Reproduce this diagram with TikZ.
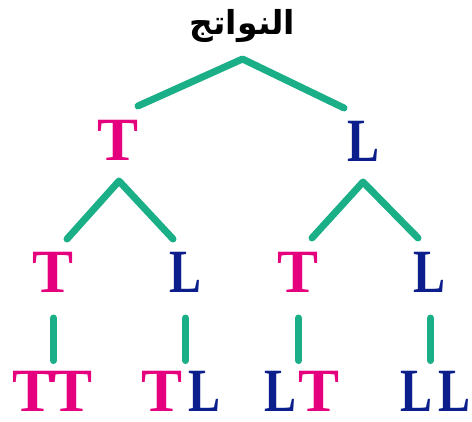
\documentclass[tikz,border=0pt]{standalone}
\usepackage{fontspec}
\usetikzlibrary{calc}
\TeXXeTstate=1
\newfontfamily\arabicfont[Script=Arabic]{DejaVu Sans}
\newfontfamily\serifT{Liberation Serif}
\newfontfamily\serifL[FakeStretch=0.78]{Liberation Serif}
\definecolor{magT}{RGB}{229,0,126}
\definecolor{blueL}{RGB}{12,30,140}
\definecolor{branchgreen}{RGB}{26,175,135}
\newcommand\LetT{{\serifT\bfseries\color{magT}T}}
\newcommand\LetL{{\serifL\bfseries\color{blueL}L}}
\begin{document}
\begin{tikzpicture}[x=1pt,y=-1pt,
  letter/.style={inner sep=0pt,anchor=base,font=\fontsize{61.5}{70}\selectfont},
  branch/.style={draw=branchgreen,line width=7pt,line cap=round,line join=round}]
\useasboundingbox (0,0) rectangle (472,422);
% heading
\node[inner sep=0pt,anchor=base,font=\fontsize{33}{40}\selectfont] (title) at (242.5,35)
  {\arabicfont\bfseries\beginR النواتج\endR};
% first draw
\node[letter] (t1) at (118,161) {\LetT};
\node[letter] (l1) at (363,161.5) {\LetL};
% second draw
\node[letter] (t2a) at (53.5,293) {\LetT};
\node[letter] (l2a) at (185.5,293) {\LetL};
\node[letter] (t2b) at (298.5,293) {\LetT};
\node[letter] (l2b) at (429.5,293) {\LetL};
% outcomes
\node[letter] (tt) at (52.5,412) {\LetT\kern-1.8pt\LetT};
\node[letter] (tl) at (181,412) {\LetT\kern5.3pt\LetL};
\node[letter] (lt) at (302,412) {\LetL\kern2pt\LetT};
\node[letter] (ll) at (435,412) {\LetL\kern6pt\LetL};
% branches
\draw[branch] ($(t1.base)+(20,-55)$) -- ($(title.base)+(0,24)$) -- ($(l1.base)+(-19,-53.5)$);
\draw[branch] ($(t2a.base)+(13.5,-54)$) -- ($(t1.base)+(1,20)$) -- ($(l2a.base)+(-12.5,-54)$);
\draw[branch] ($(t2b.base)+(13.5,-55)$) -- ($(l1.base)+(0,20.5)$) -- ($(l2b.base)+(-11.5,-55)$);
\draw[branch] ($(t2a.base)+(0,25)$) -- ($(t2a.base |- tt.north)+(0,-11)$);
\draw[branch] ($(l2a.base)+(0,25)$) -- ($(l2a.base |- tl.north)+(0,-11)$);
\draw[branch] ($(t2b.base)+(0,25)$) -- ($(t2b.base |- lt.north)+(0,-11)$);
\draw[branch] ($(l2b.base)+(1,25)$) -- ($(l2b.base |- ll.north)+(1,-11)$);
\end{tikzpicture}
\end{document}
